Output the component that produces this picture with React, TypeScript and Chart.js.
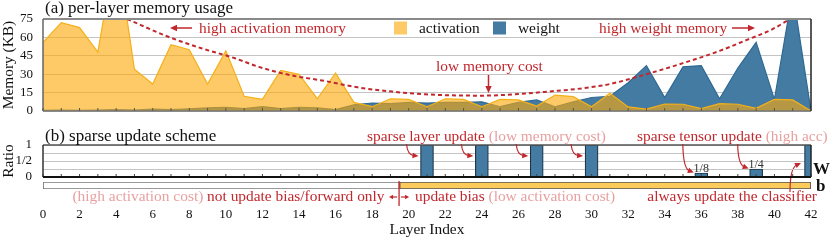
import { useEffect, useRef } from 'react';
import { Chart, registerables } from 'chart.js';
Chart.register(...registerables);

// ---------- data ----------
const layers = [0,1,2,3,4,5,6,7,8,9,10,11,12,13,14,15,16,17,18,19,20,21,22,23,24,25,26,27,28,29,30,31,32,33,34,35,36,37,38,39,40,41,42];
const activation = [56,72,68,48,135,34,22,54,50,22,49,12,9.5,33,30,10,31,7,3.5,10,9.5,3.5,10,9.5,3.5,9.5,9,4,13,11.7,3.5,14.4,3.3,1.6,5.7,5.5,2,6,5.5,2.2,9.5,9,0];
const weight = [0.5,0.8,0.6,0.8,1.2,0.8,1.5,1.2,1.8,2.5,3,2,3.5,2,3,2.5,1.2,5,6.5,6,7,6.5,7,7,7.5,3.5,7,9,3.5,7.5,11,12,23,37,11,36,37,10,35,56,9.5,97,0];
const trendLayers = [4.6,6.85,8.7,10.5,11.8,13.6,15.4,17.2,19.1,20.9,24,25.8,27.6,29.5,31,33,35,37,38.5,39.8,40.75];
const trendMemory = [75,60.5,51,43,36,29,24.5,19.3,15.8,13.6,12.5,13.6,15.8,18.5,22,30,39,49,58,66,74];
const memoryTicks = [0,15,30,45,60,75];

const sparseLayers = [21,24,27,30,36,39,42];
const sparseRatios = [1,1,1,1,0.125,0.25,1];
const sparseRatioLabels = ['','','','','1/8','1/4',''];
const ratioTickValues = [0,0.5,1];
const ratioTickLabels = ['0','1/2','1'];

const noBiasRange = [0,19.5];
const biasRange = [19.5,42];
const layerTickStep = 2;

// ---------- style ----------
const SERIF = "'Liberation Serif', 'Times New Roman', serif";
const RED = '#c1272d';
const PINK = '#e9a0a0';
const BLUE = '#447ba2';
const ACT_FILL = 'rgba(252,170,10,0.62)';
const ACT_LINE = '#f4b018';
const AF = `15.4px ${SERIF}`;

function line(ctx, x0, y0, x1, y1, color, w) {
  ctx.save(); ctx.strokeStyle = color; ctx.lineWidth = w;
  ctx.beginPath(); ctx.moveTo(x0, y0); ctx.lineTo(x1, y1); ctx.stroke(); ctx.restore();
}
function head(ctx, x, y, ang, color, len = 7, half = 3.2) {
  ctx.save(); ctx.fillStyle = color; ctx.translate(x, y); ctx.rotate(ang);
  ctx.beginPath(); ctx.moveTo(0, 0); ctx.lineTo(-len, -half); ctx.lineTo(-len, half); ctx.closePath(); ctx.fill(); ctx.restore();
}
function arrow(ctx, x0, y0, x1, y1, color, len = 7, half = 3.2, w = 1.5) {
  const ang = Math.atan2(y1 - y0, x1 - x0);
  line(ctx, x0, y0, x1 - Math.cos(ang) * len * 0.8, y1 - Math.sin(ang) * len * 0.8, color, w);
  head(ctx, x1, y1, ang, color, len, half);
}
function curved(ctx, x0, y0, cx, cy, x1, y1, color) {
  const ang = Math.atan2(y1 - cy, x1 - cx);
  const len = 6;
  ctx.save(); ctx.strokeStyle = color; ctx.lineWidth = 1.2;
  ctx.beginPath(); ctx.moveTo(x0, y0);
  ctx.quadraticCurveTo(cx, cy, x1 - Math.cos(ang) * len * 0.8, y1 - Math.sin(ang) * len * 0.8);
  ctx.stroke(); ctx.restore();
  head(ctx, x1, y1, ang, color, len, 2.8);
}
function text(ctx, s, x, y, color, align = 'left', font = AF) {
  ctx.save(); ctx.font = font; ctx.fillStyle = color; ctx.textAlign = align; ctx.textBaseline = 'alphabetic';
  ctx.fillText(s, x, y); ctx.restore();
}
function parts(ctx, ps, x, y, align = 'left', font = AF) {
  ctx.save(); ctx.font = font;
  const sp = ctx.measureText(' ').width;
  const ws = ps.map(p => ctx.measureText(p[0]).width);
  const total = ws.reduce((a, b) => a + b, 0) + sp * (ps.length - 1);
  let cx = align === 'right' ? x - total : x;
  ctx.textBaseline = 'alphabetic'; ctx.textAlign = 'left';
  ps.forEach((p, i) => { ctx.fillStyle = p[1]; ctx.fillText(p[0], cx, y); cx += ws[i] + sp; });
  ctx.restore();
}

const tickFont = { size: 13, family: SERIF };

export default function App() {
  const refA = useRef(null);
  const refB = useRef(null);
  const refC = useRef(null);

  useEffect(() => {
    document.body.style.margin = '0';

    const annotA = {
      id: 'annotA',
      afterDraw(chart) {
        const { ctx, chartArea: a, scales } = chart;
        const xs = scales.x;
        line(ctx, a.left, a.top, a.right, a.top, '#8a8a8a', 2);
        line(ctx, a.left, a.top, a.left, a.bottom, '#666', 1.5);
        line(ctx, a.left, a.bottom, a.right, a.bottom, '#777', 1.5);
        line(ctx, a.right, a.top, a.right, a.bottom, '#222', 1.5);
        layers.forEach(l => { const x = xs.getPixelForValue(l); line(ctx, x, a.bottom, x, a.bottom - 3, '#555', 1); });
        text(ctx, '(a) per-layer memory usage', 45, 13, '#111', 'left', `17px ${SERIF}`);
        text(ctx, 'high activation memory', 199, 33, RED);
        arrow(ctx, 192, 28, 170, 28, RED);
        text(ctx, 'high weight memory', 599, 33, RED);
        arrow(ctx, 732, 28, 755, 28, RED);
        text(ctx, 'low memory cost', 436, 71, RED);
        arrow(ctx, 488.5, 75, 488.5, 93, RED);
        ctx.save();
        ctx.fillStyle = ACT_FILL; ctx.fillRect(394, 21.5, 13, 13);
        ctx.fillStyle = BLUE; ctx.fillRect(493, 21.5, 13, 13);
        ctx.restore();
        text(ctx, 'activation', 419, 33, '#111');
        text(ctx, 'weight', 518, 33, '#111');
      },
    };

    const annotB = {
      id: 'annotB',
      afterDraw(chart) {
        const { ctx, chartArea: a, scales } = chart;
        const xs = scales.x, ys = scales.y;
        layers.forEach(l => { const x = xs.getPixelForValue(l); line(ctx, x, a.bottom, x, a.bottom - 3, '#444', 1); });
        line(ctx, a.left, a.top, a.right, a.top, '#555', 1.5);
        line(ctx, a.left, a.top, a.left, a.bottom, '#333', 1.5);
        line(ctx, a.left, a.bottom, a.right, a.bottom, '#111', 2);
        line(ctx, a.right, a.top, a.right, a.bottom, '#222', 1.5);
        sparseLayers.forEach((l, i) => {
          if (sparseRatioLabels[i]) text(ctx, sparseRatioLabels[i], xs.getPixelForValue(l), ys.getPixelForValue(sparseRatios[i]) - 1.5, '#333', 'center', `12px ${SERIF}`);
        });
        text(ctx, '(b) sparse update scheme', 45, 141, '#111', 'left', `17px ${SERIF}`);
        parts(ctx, [['sparse layer update', RED], ['(low memory cost)', PINK]], 367, 141);
        parts(ctx, [['sparse tensor update', RED], ['(high acc)', PINK]], 637, 141);
        [21, 24, 27, 30].forEach(l => {
          const ex = xs.getPixelForValue(l) - 8.5;
          curved(ctx, ex - 12, 144, ex - 11, 155, ex, 156, RED);
        });
        [36, 39].forEach((l, k) => {
          const ex = xs.getPixelForValue(l) - 7.5;
          const ey = ys.getPixelForValue(sparseRatios[4 + k]) - 0.5;
          curved(ctx, ex - 11, 144, ex - 10.5, ey - 4, ex, ey, RED);
        });
        text(ctx, 'W', 813, 174, '#111', 'left', `bold 17px ${SERIF}`);
      },
    };

    const annotC = {
      id: 'annotC',
      afterDraw(chart) {
        const { ctx, scales } = chart;
        const xs = scales.x;
        const bx = xs.getPixelForValue(biasRange[0]) - 0.5;
        line(ctx, bx, 181, bx, 206, RED, 1.3);
        arrow(ctx, bx - 2, 197, bx - 10, 197, RED, 4, 2.2, 1.2);
        arrow(ctx, bx + 2, 197, bx + 10, 197, RED, 4, 2.2, 1.2);
        parts(ctx, [['(high activation cost)', PINK], ['not update bias/forward only', RED]], 384.5, 201, 'right');
        parts(ctx, [['update bias', RED], ['(low activation cost)', PINK]], 415, 201);
        text(ctx, 'always update the classifier', 817, 201, RED, 'right');
        const cx = xs.getPixelForValue(42) - 10;
        curved(ctx, cx - 11, 192, cx - 11, 168, cx, 163, RED);
        text(ctx, 'b', 816, 191, '#111', 'left', `bold 17px ${SERIF}`);
      },
    };

    const chartA = new Chart(refA.current, {
      type: 'line',
      data: {
        datasets: [
          { label: 'activation', data: layers.map((l, i) => ({ x: l, y: activation[i] })), fill: 'origin', backgroundColor: ACT_FILL, borderColor: ACT_LINE, borderWidth: 1.2, pointRadius: 0, tension: 0 },
          { label: 'weight', data: layers.map((l, i) => ({ x: l, y: weight[i] })), fill: 'origin', backgroundColor: BLUE, borderColor: '#2f6994', borderWidth: 1.2, pointRadius: 0, tension: 0 },
          { label: 'trend', data: trendLayers.map((l, i) => ({ x: l, y: trendMemory[i] })), fill: false, borderColor: RED, borderDash: [4, 3], borderWidth: 2, pointRadius: 0, cubicInterpolationMode: 'monotone', order: -1 },
        ],
      },
      options: {
        animation: false, responsive: false, events: [],
        layout: { padding: { left: 0, right: 20, top: 19, bottom: 129 } },
        plugins: { legend: { display: false }, tooltip: { enabled: false } },
        scales: {
          x: { type: 'linear', min: 0, max: 42, display: false, offset: false },
          y: {
            min: 0, max: 75,
            afterBuildTicks: s => { s.ticks = memoryTicks.map(v => ({ value: v })); },
            ticks: { font: tickFont, color: '#111', padding: 10, autoSkip: false },
            grid: { color: '#c4c4c4', drawTicks: false, lineWidth: 1 },
            border: { display: false },
            title: { display: true, text: 'Memory (KB)', font: { size: 15.4, family: SERIF }, color: '#111', padding: 0 },
            afterFit: s => { s.width = 43; },
          },
        },
      },
      plugins: [annotA],
    });

    const chartB = new Chart(refB.current, {
      type: 'bar',
      data: {
        datasets: [
          { label: 'W', data: sparseLayers.map((l, i) => ({ x: l, y: sparseRatios[i] })), backgroundColor: BLUE, borderColor: '#1d3547', borderWidth: 1.2, barThickness: 13, clip: 0 },
        ],
      },
      options: {
        animation: false, responsive: false, events: [],
        layout: { padding: { left: 0, right: 20, top: 145, bottom: 63 } },
        plugins: { legend: { display: false }, tooltip: { enabled: false } },
        scales: {
          x: { type: 'linear', min: 0, max: 42, display: false, offset: false },
          y: {
            min: 0, max: 1,
            ticks: {
              stepSize: 0.25, font: tickFont, color: '#111', padding: 11, autoSkip: false,
              callback: v => { const k = ratioTickValues.indexOf(Number(v)); return k >= 0 ? ratioTickLabels[k] : ''; },
            },
            grid: { color: '#c4c4c4', drawTicks: false, lineWidth: 1 },
            border: { display: false },
            title: { display: true, text: 'Ratio', font: { size: 15.4, family: SERIF }, color: '#111', padding: 0 },
            afterFit: s => { s.width = 43; },
          },
        },
      },
      plugins: [annotB],
    });

    const chartC = new Chart(refC.current, {
      type: 'bar',
      data: {
        labels: ['b'],
        datasets: [
          { label: 'frozen bias', data: [noBiasRange], backgroundColor: '#ffffff', borderColor: '#777', borderWidth: 1.2, borderSkipped: false, grouped: false, barPercentage: 1, categoryPercentage: 1 },
          { label: 'bias', data: [biasRange], backgroundColor: '#fccb5c', borderColor: '#555', borderWidth: 1.2, borderSkipped: false, grouped: false, barPercentage: 1, categoryPercentage: 1 },
        ],
      },
      options: {
        indexAxis: 'y',
        animation: false, responsive: false, events: [],
        layout: { padding: { left: 43, right: 20, top: 182, bottom: 0 } },
        plugins: { legend: { display: false }, tooltip: { enabled: false } },
        scales: {
          y: { display: false },
          x: {
            type: 'linear', min: 0, max: 42, offset: false,
            ticks: { stepSize: layerTickStep, autoSkip: false, maxRotation: 0, font: tickFont, color: '#111', padding: 12 },
            grid: { display: false, drawTicks: true, tickLength: 6, tickColor: 'rgba(0,0,0,0)' },
            border: { display: false },
            title: { display: true, text: 'Layer Index', font: { size: 15.4, family: SERIF }, color: '#111', padding: 1 },
            afterFit: s => { s.height = 51; },
          },
        },
      },
      plugins: [annotC],
    });

    return () => { chartA.destroy(); chartB.destroy(); chartC.destroy(); };
  }, []);

  const cs = { position: 'absolute', left: 0, top: 0 } as const;
  return (
    <div style={{ position: 'relative', width: 831, height: 240, background: '#fff' }}>
      <canvas ref={refC} width={831} height={240} style={cs} />
      <canvas ref={refB} width={831} height={240} style={cs} />
      <canvas ref={refA} width={831} height={240} style={cs} />
    </div>
  );
}
